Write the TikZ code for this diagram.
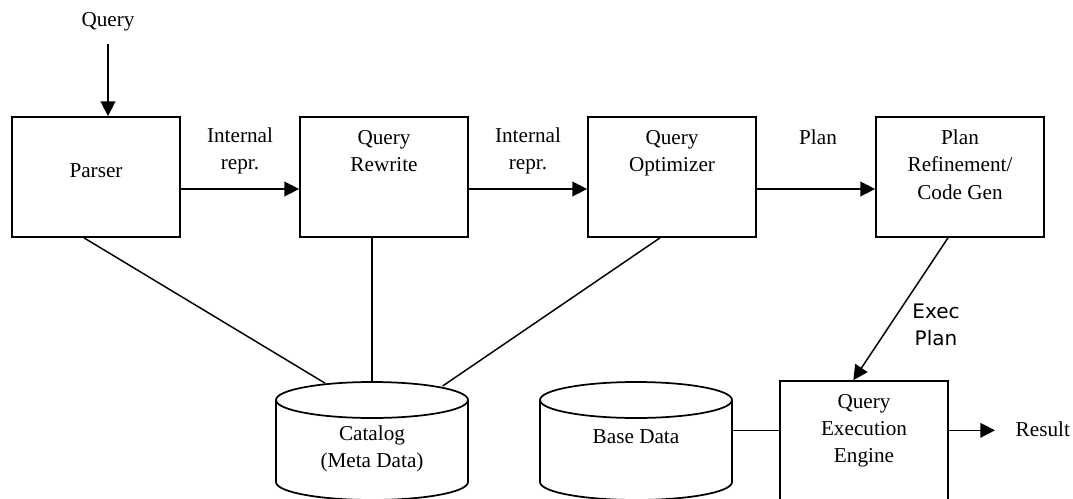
\documentclass[tikz,border=0pt]{standalone}
\usepackage{fontspec}
\setmainfont{Liberation Serif}
\newfontfamily\execfont{DejaVu Sans}
\usetikzlibrary{arrows.meta,positioning}
\begin{document}
\begin{tikzpicture}[x=0.75pt,y=-0.75pt,
  every node/.style={font=\fontsize{15.9}{20.3}\selectfont,align=center},
  box/.style={draw,line width=1.3pt,minimum width=126pt,minimum height=90pt},
  dbline/.style={line width=1.3pt},
  lbl/.style={anchor=north,yshift=-7pt},
  ln/.style={line width=1.1pt},
  arr/.style={ln,-{Triangle[length=11pt,width=11pt]}}]
\useasboundingbox (0,0) rectangle (1073,499);

\node (q) at (108,22) {Query};
\node[box,label={[yshift=5pt]center:Parser}] (p) at (96,177) {};
\node[box,label={[lbl]north:Query\\Rewrite}] (qr) at (384,177) {};
\node[box,label={[lbl]north:Query\\Optimizer}] (qo) at (672,177) {};
\node[box,label={[lbl]north:Plan\\Refinement/\\Code Gen}] (pr) at (960,177) {};
\node[box,label={[yshift=8pt]center:Query\\Execution\\Engine}] (qe) at (864,441) {};

% the two disks
\foreach \cx in {372,636}
  \draw[dbline] (\cx-96,400) -- (\cx-96,482) arc[start angle=180,end angle=0,x radius=96,y radius=18]
    -- (\cx+96,400) (\cx,400) ellipse[x radius=96,y radius=18];
\node (cat) at (372,448.5) {Catalog\\(Meta Data)};
\node (bd) at (636,437) {Base Data};
\coordinate (cattop) at (372,382);
\coordinate (bdr) at (732,430);

\node (l1) at (240,151) {Internal\\repr.};
\node (l2) at (528,151) {Internal\\repr.};
\node (l3) at (818,137) {Plan};
\node[font=\execfont\fontsize{15}{20.3}\selectfont] (ep) at (936,325) {Exec\\Plan};
\node[anchor=west] (res) at (1011,429) {Result};

% main flow
\draw[arr,shorten <=6pt] (q) -- (q |- p.north);
\draw[arr] ([yshift=-9pt]p.east) -- ([yshift=-9pt]qr.west);
\draw[arr] ([yshift=-9pt]qr.east) -- ([yshift=-9pt]qo.west);
\draw[arr] ([yshift=-9pt]qo.east) -- ([yshift=-9pt]pr.west);
\draw[arr] ([xshift=-9pt]pr.south) -- ([xshift=-8pt]qe.north);
\draw[arr,shorten >=12pt] ([yshift=8pt]qe.east) -- ([yshift=8pt]qe.east -| res.west);

% catalog and data
\draw[ln] ([xshift=-9pt]p.south) -- ([xshift=-35pt,yshift=-1pt]cattop);
\draw[ln] (cattop) -- (cattop |- qr.south);
\draw[ln] ([xshift=-9pt]qo.south) -- ([xshift=53pt,yshift=-3pt]cattop);
\draw[ln] ([yshift=8pt]qe.west -| bdr) -- ([yshift=8pt]qe.west);
\end{tikzpicture}
\end{document}
